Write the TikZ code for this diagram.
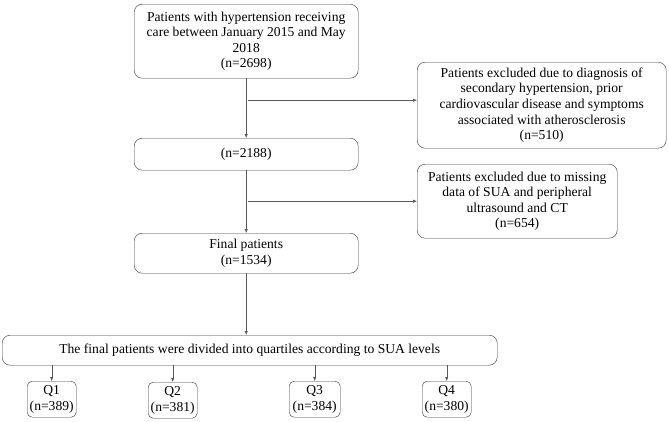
\documentclass[tikz,border=0pt]{standalone}
\usepackage{fontspec}
\setmainfont{Liberation Serif}
\usetikzlibrary{arrows.meta}
\begin{document}
\begin{tikzpicture}[x=1pt,y=-1pt,font=\fontsize{13.6}{15.6}\selectfont,
  box/.style={anchor=north west,draw=black!80,thin,rounded corners=8pt,align=center,inner sep=1pt},
  qbox/.style={box,rounded corners=5pt,inner sep=0pt,minimum height=36pt},
  arr/.style={draw=black!65,thin,-{Latex[length=4pt,width=3.2pt]}}]
\useasboundingbox (0,0) rectangle (669,421);
% main column
\node[box,minimum width=224pt,minimum height=74pt] (start) at (134,4) {Patients with hypertension receiving\\care between January 2015 and May\\2018\\(n=2698)};
\node[box,minimum width=224pt,minimum height=32pt] (n2188) at (134,138) {(n=2188)};
\node[box,minimum width=224pt,minimum height=40pt] (final) at (134,233) {Final patients\\(n=1534)};
\node[box,minimum width=495pt,minimum height=30pt] (quart) at (2,335) {The final patients were divided into quartiles according to SUA levels};
% exclusions
\node[box,minimum width=249pt,minimum height=86pt] (excl1) at (417,62) {Patients excluded due to diagnosis of\\secondary hypertension, prior\\cardiovascular disease and symptoms\\associated with atherosclerosis\\(n=510)};
\node[box,minimum width=200pt,minimum height=74pt] (excl2) at (417,164) {Patients excluded due to missing\\data of SUA and peripheral\\ultrasound and CT\\(n=654)};
% quartiles
\node[qbox,minimum width=49pt] (q1) at (27,381) {Q1\\(n=389)};
\node[qbox,minimum width=49pt] (q2) at (148,382) {Q2\\(n=381)};
\node[qbox,minimum width=51pt] (q3) at (289,381) {Q3\\(n=384)};
\node[qbox,minimum width=49pt] (q4) at (422,381) {Q4\\(n=380)};
% connectors
\draw[arr] (start.south) -- (n2188.north);
\draw[arr] ([xshift=2pt,yshift=5pt]start.south |- excl1.west) -- ([yshift=5pt]excl1.west);
\draw[arr] (n2188.south) -- (final.north);
\draw[arr] ([xshift=2pt]n2188.south |- excl2.west) -- (excl2.west);
\draw[arr] (final.south) -- (final.south |- quart.north);
\draw[arr] (q1.north |- quart.south) -- (q1.north);
\draw[arr] (q2.north |- quart.south) -- (q2.north);
\draw[arr] (q3.north |- quart.south) -- (q3.north);
\draw[arr] (q4.north |- quart.south) -- (q4.north);
\end{tikzpicture}
\end{document}
